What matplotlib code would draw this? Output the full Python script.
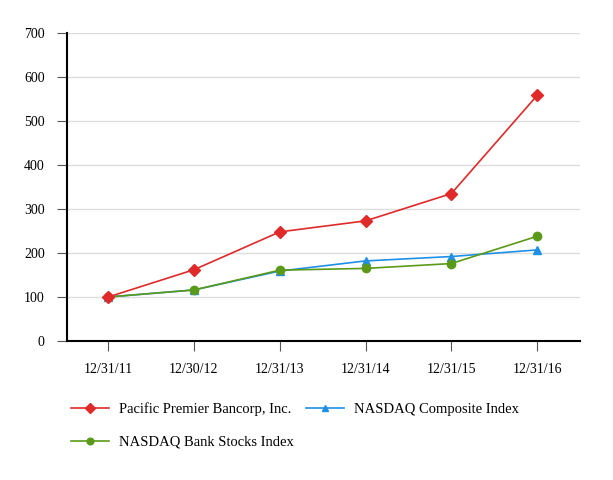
import matplotlib
matplotlib.use('Agg')
import matplotlib.pyplot as plt

### Data #################################################
dates = ['12/31/11', '12/30/12', '12/31/13', '12/31/14', '12/31/15', '12/31/16']
pacific = [100, 162, 248, 273, 335, 558]
nasdaq_comp = [100, 116, 159, 182, 192, 207]
nasdaq_bank = [100, 116, 161, 165, 176, 238]
y_ticks = [0, 100, 200, 300, 400, 500, 600, 700]
##########################################################

plt.rcParams['font.family'] = ['Liberation Serif', 'DejaVu Serif']
plt.rcParams['font.size'] = 10

fig = plt.figure(figsize=(6.13, 4.8), dpi=100)
ax = fig.add_axes([67/613, 1 - 341/480, (580-67)/613, (341-33)/480])

x = range(len(dates))
l1, = ax.plot(x, pacific, color='#e02a2a', lw=1.2, marker='D', ms=6, label='Pacific Premier Bancorp, Inc.', zorder=5)
l2, = ax.plot(x, nasdaq_comp, color='#1e90e6', lw=1.2, marker='^', ms=6, label='NASDAQ Composite Index', zorder=3)
l3, = ax.plot(x, nasdaq_bank, color='#5a9a18', lw=1.2, marker='o', ms=6, label='NASDAQ Bank Stocks Index', zorder=4)

ax.set_xlim(-0.48, 5.5)
ax.set_ylim(0, 700)
ax.set_yticks(y_ticks)
ax.set_xticks(list(x))
ax.set_xticklabels(dates)
ax.yaxis.grid(True, color='#dddddd', lw=1)
ax.set_axisbelow(True)
for s in ['top', 'right']:
    ax.spines[s].set_visible(False)
for s in ['left', 'bottom']:
    ax.spines[s].set_linewidth(1.5)
ax.tick_params(axis='y', length=7, width=0.8, color='#555555', pad=9)
ax.tick_params(axis='x', length=7, width=0.8, color='#555555', pad=9)

fig.legend([l1, l3, l2], [l1.get_label(), l3.get_label(), l2.get_label()],
           ncol=2, loc='upper left', bbox_to_anchor=(58/613, 1 - 389/480),
           frameon=False, handlelength=2.6, handletextpad=0.7, markerscale=0.8,
           columnspacing=0.8, labelspacing=1.35, fontsize=10.5)

fig.savefig('out.png', dpi=100)
plt.close()
